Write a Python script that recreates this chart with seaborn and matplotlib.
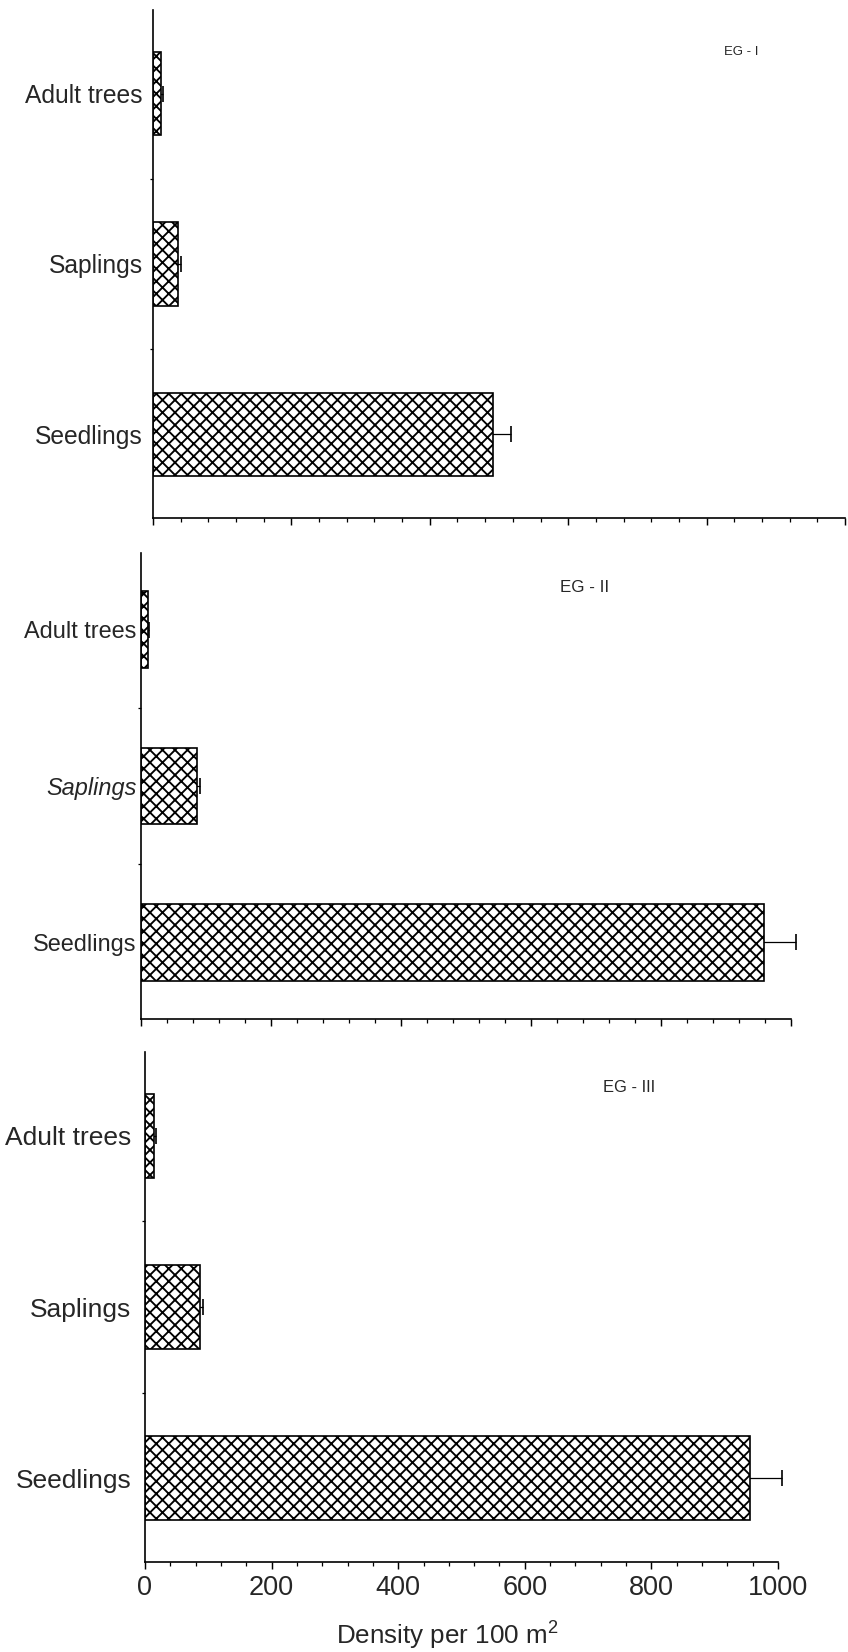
import matplotlib
matplotlib.use("Agg")
import matplotlib.pyplot as plt
from matplotlib.ticker import MultipleLocator, FixedLocator
import seaborn as sns
import pandas as pd

# ---- data ----
categories = ["Adult trees", "Saplings", "Seedlings"]
panel_names = ["EG - I", "EG - II", "EG - III"]
eg1_density = [12, 36, 491]
eg1_se = [2, 5, 27]
eg2_density = [10, 86, 958]
eg2_se = [2, 5, 50]
eg3_density = [15, 87, 956]
eg3_se = [2, 5, 50]
x_ticks = [0, 200, 400, 600, 800, 1000]
x_label = "Density per 100 m$^2$"

sns.set_style("ticks")
plt.rcParams["font.family"] = ["Liberation Sans", "DejaVu Sans"]
plt.rcParams["hatch.linewidth"] = 0.9
plt.rcParams["mathtext.fontset"] = "custom"
plt.rcParams["mathtext.rm"] = "Liberation Sans"

DPI = 150
fig = plt.figure(figsize=(848 / DPI, 1652 / DPI), dpi=DPI)

# axes rectangles in figure fractions [left, bottom, width, height]
rects = [
    [153 / 848, 1 - 518 / 1652, 692 / 848, 508 / 1652],
    [141 / 848, 1 - 1019 / 1652, 650 / 848, 466 / 1652],
    [145 / 848, 1 - 1562 / 1652, 633 / 848, 510 / 1652],
]
label_sizes = [11.8, 11.3, 12.7]
label_pads = [5, 2, 6.5]
eg_pos = [(0.85, 0.917, 6.3), (0.683, 0.925, 8.2), (0.765, 0.931, 7.9)]
datasets = [(eg1_density, eg1_se), (eg2_density, eg2_se), (eg3_density, eg3_se)]

for i, (rect, (dens, se)) in enumerate(zip(rects, datasets)):
    ax = fig.add_axes(rect)
    df = pd.DataFrame({"Stage": categories, "Density": dens, "SE": se})
    # error bars behind the bars
    eb = ax.errorbar(df["Density"], range(len(categories)), xerr=df["SE"], fmt="none",
                     ecolor="black", elinewidth=0.6, capsize=3.8, capthick=0.8, zorder=1)
    for art in eb.get_children():
        art.set_clip_on(False)
    sns.barplot(data=df, x="Density", y="Stage", orient="h", ax=ax,
                color="white", saturation=1, width=0.49, errorbar=None,
                edgecolor="black", linewidth=0.8, hatch="xxxx", zorder=2)
    for p in ax.patches:
        p.set_zorder(2)
    ax.set_xlim(0, 1000)
    ax.set_ylim(2.49, -0.49)
    sns.despine(ax=ax)
    for s in ["left", "bottom"]:
        ax.spines[s].set_linewidth(0.8)
        ax.spines[s].set_color("black")
    ax.xaxis.set_major_locator(FixedLocator(x_ticks))
    ax.xaxis.set_minor_locator(MultipleLocator(40))
    ax.tick_params(axis="x", which="major", direction="out", length=3.4, width=0.7,
                   color="black", labelsize=13, pad=3)
    ax.tick_params(axis="x", which="minor", direction="out", length=1.8, width=0.6,
                   color="black")
    ax.yaxis.set_minor_locator(FixedLocator([0.5, 1.5]))
    ax.tick_params(axis="y", which="major", length=0, labelsize=label_sizes[i],
                   pad=label_pads[i])
    ax.tick_params(axis="y", which="minor", direction="out", length=1.6, width=0.6,
                   color="black")
    ax.set_ylabel("")
    if i == 1:
        for t in ax.get_yticklabels():
            if t.get_text() == "Saplings":
                t.set_style("italic")
    if i < 2:
        ax.set_xticklabels([])
        ax.set_xlabel("")
    else:
        ax.set_xticklabels([str(t) for t in x_ticks])
        ax.set_xlabel(x_label, fontsize=12.5, labelpad=8, x=0.477)
    ex, ey, es = eg_pos[i]
    ax.text(ex, ey, panel_names[i], transform=ax.transAxes, ha="center",
            va="center", fontsize=es)
    ax.set_facecolor("white")

fig.patch.set_facecolor("white")
fig.savefig("out.png", dpi=DPI, facecolor="white")
